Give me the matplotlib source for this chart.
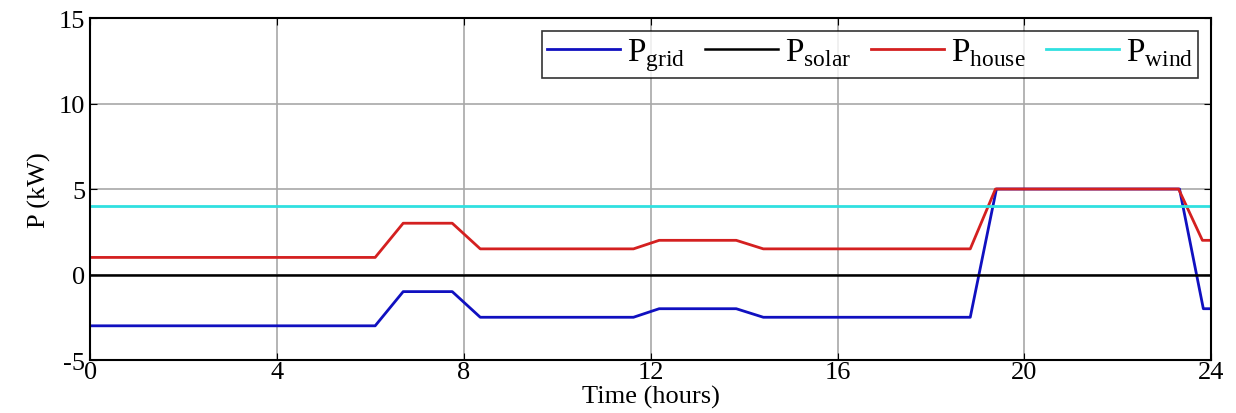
import numpy as np
import matplotlib
matplotlib.use('Agg')
import matplotlib.pyplot as plt

# time breakpoints (hours) and power values (kW)
t_grid = [0, 6.1, 6.7, 7.75, 8.35, 11.63, 12.18, 13.83, 14.41, 18.84, 19.4, 23.32, 23.83, 24]
p_grid = [-3, -3, -1, -1, -2.5, -2.5, -2, -2, -2.5, -2.5, 5, 5, -2, -2]

t_house = [0, 6.1, 6.7, 7.75, 8.35, 11.63, 12.18, 13.83, 14.41, 18.84, 19.38, 23.3, 23.81, 24]
p_house = [1, 1, 3, 3, 1.5, 1.5, 2, 2, 1.5, 1.5, 5, 5, 2, 2]

t_flat = [0, 24]
p_solar = [0, 0]
p_wind = [4, 4]

xticks = [0, 4, 8, 12, 16, 20, 24]
yticks = [-5, 0, 5, 10, 15]

plt.rcParams['font.family'] = ['Liberation Serif', 'DejaVu Serif']
plt.rcParams['mathtext.fontset'] = 'custom'
plt.rcParams['mathtext.rm'] = 'Liberation Serif'
plt.rcParams['axes.unicode_minus'] = False

fig = plt.figure(figsize=(12.36, 4.14), dpi=100)
ax = fig.add_axes([0.073, 0.128, 0.907, 0.826])

ax.plot(t_grid, p_grid, color='#1010c0', lw=2, label=r'P$_{\mathrm{grid}}$')
ax.plot(t_flat, p_solar, color='black', lw=1.8, label=r'P$_{\mathrm{solar}}$')
ax.plot(t_house, p_house, color='#d42020', lw=2, label=r'P$_{\mathrm{house}}$')
ax.plot(t_flat, p_wind, color='#30e0e0', lw=2, label=r'P$_{\mathrm{wind}}$')

ax.set_xlim(0, 24)
ax.set_ylim(-5, 15)
ax.set_xticks(xticks)
ax.set_yticks(yticks)
ax.grid(True, color='#a8a8a8', lw=1.2)
ax.tick_params(direction='in', labelsize=19, length=5, top=True, right=True)
ax.tick_params(axis='x', pad=1)
for s in ax.spines.values():
    s.set_linewidth(1.5)

ax.set_xlabel('Time (hours)', fontsize=19, labelpad=1)
ax.set_ylabel('P (kW)', fontsize=19, labelpad=6)

leg = ax.legend(loc='upper right', ncol=4, fontsize=24, frameon=True, fancybox=False,
                edgecolor='black', handlelength=2.2, columnspacing=0.6, handletextpad=0.2,
                borderaxespad=0.4, borderpad=0.15)
leg.get_frame().set_linewidth(1.2)

plt.savefig('out.png', dpi=100)
